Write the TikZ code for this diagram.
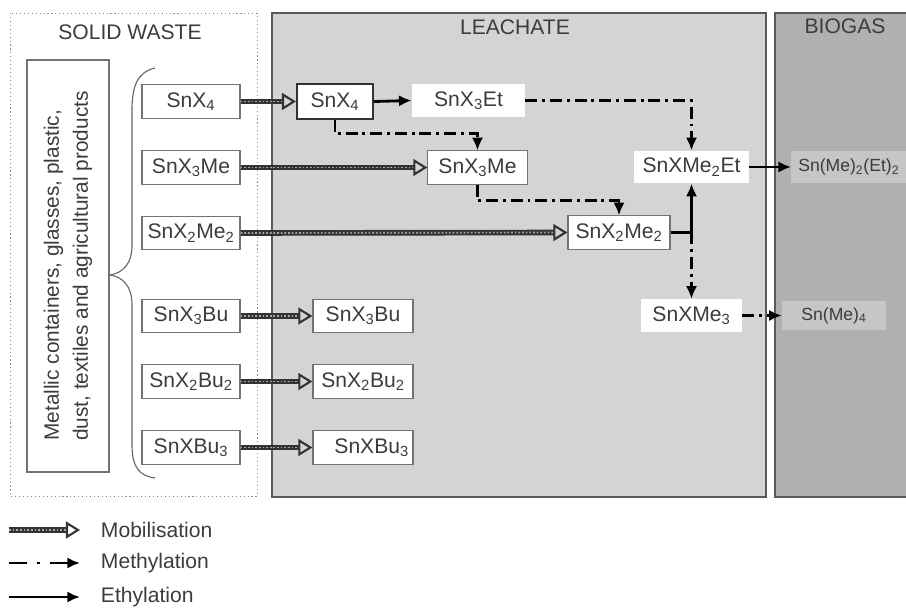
\documentclass[tikz,border=0pt]{standalone}
\usepackage{fontspec}
\setmainfont{Liberation Sans}
\usepackage{xcolor}
\usepackage{tikz}
\usetikzlibrary{positioning, fit, arrows.meta}
\definecolor{ink}{HTML}{3C3C3C}
\definecolor{leach}{HTML}{D4D4D4}
\definecolor{gas}{HTML}{B0B0B0}
\definecolor{gasbox}{HTML}{C6C6C6}
\newcommand{\chemsub}[1]{\textsubscript{#1}}

\begin{document}
\begin{tikzpicture}[x=0.025cm, y=-0.025cm,
		every node/.style={text=ink, font=\fontsize{15}{18}\selectfont},
		spec/.style={draw=black!55, fill=white, line width=0.8pt, inner sep=0pt,
			minimum width=2.45cm, minimum height=0.83cm},
		bare/.style={fill=white, inner sep=0pt, minimum height=0.82cm},
		vap/.style={fill=gasbox, inner sep=0pt, font=\fontsize{12.5}{15}\selectfont},
		mob/.style={draw=black!80, line width=4pt,
			-{Triangle[open, length=10pt, width=12pt, line width=1.5pt]},
			postaction={draw=white!65!black, -, line width=1.2pt,
				dash pattern=on 1.2pt off 1.4pt, shorten >=10pt}},
		eth/.style={draw=black, line width=2pt, -{Latex[length=9pt, width=8pt]}},
		meth/.style={eth, dash pattern=on 8.5pt off 3.5pt on 2pt off 3.5pt}
		]
		\clip (0,0) rectangle (906,610);
		
		% draw the compartments
		\draw[black!45, line width=0.7pt, dash pattern=on 0.8pt off 2pt] (10,13) rectangle (257,496);
		\draw[draw=black!65, fill=leach, line width=1.1pt] (272,13) rectangle (766,497);
		\draw[draw=black!65, fill=gas, line width=1.1pt] (775,13) rectangle (940,497);
		\node (solid) at (130,32) {SOLID WASTE};
		\node (leachate) at (515,27) {LEACHATE};
		\node (biogas) at (845,26) {BIOGAS};
		
		% draw source box and brace
		\node[draw=black!55, line width=0.8pt, rotate=90, minimum width=10.3cm, minimum height=2.05cm,
			align=left, font=\fontsize{14.8}{20.6}\selectfont] (src) at (68,266)
			{Metallic containers, glasses, plastic,\\dust, textiles and agricultural products};
		\draw[black!60, line width=0.8pt] (155,68) .. controls (138,72) and (132,85) .. (132,110)
			-- (132,245) .. controls (132,265) and (122,273) .. (110,275)
			.. controls (122,277) and (132,285) .. (132,305)
			-- (132,445) .. controls (132,468) and (140,476) .. (155,478);
		
		% draw species in solid waste
		\foreach \i/\y [count=\step from 1] in {SnX\chemsub{4}/101.5, SnX\chemsub{3}Me/167.5,
			SnX\chemsub{2}Me\chemsub{2}/233, SnX\chemsub{3}Bu/316, SnX\chemsub{2}Bu\chemsub{2}/381.5,
			SnXBu\chemsub{3}/447.5}
		\node[spec] (s\step) at (191,\y) {\i};
		
		% draw species in leachate
		\node[spec, draw=black!80, line width=1.4pt, minimum width=1.9cm, minimum height=0.87cm] (l1) at (335,101.5) {SnX\chemsub{4}};
		\node[bare, minimum width=2.83cm] (et1) at (468.5,100.5) {SnX\chemsub{3}Et};
		\node[spec, minimum width=2.48cm] (l2) at (477.5,167.5) {SnX\chemsub{3}Me};
		\node[spec, minimum width=2.55cm] (l3) at (619,232.5) {SnX\chemsub{2}Me\chemsub{2}};
		\node[spec, minimum width=2.5cm] (l4) at (363,316) {SnX\chemsub{3}Bu};
		\node[spec, minimum width=2.5cm] (l5) at (363,381.5) {SnX\chemsub{2}Bu\chemsub{2}};
		\node[spec, minimum width=2.5cm, text width=2.3cm, align=right] (l6) at (363,447.5) {SnXBu\chemsub{3}};
		\node[bare, minimum width=2.88cm] (e1) at (691.5,167) {SnXMe\chemsub{2}Et};
		\node[bare, minimum width=2.53cm] (e2) at (691.5,315.5) {SnXMe\chemsub{3}};
		\coordinate (jn) at (l3.east -| e1.south);
		
		% draw species in biogas
		\node[vap, anchor=west, minimum height=0.8cm, inner xsep=5pt] (g1) at (791,167) {Sn(Me)\chemsub{2}(Et)\chemsub{2}};
		\node[vap, minimum width=2.6cm, minimum height=0.73cm] (g2) at (834,315.5) {Sn(Me)\chemsub{4}};
		
		% mobilisation
		\foreach \a/\b in {s1/l1, s2/l2, s3/l3, s4/l4, s5/l5, s6/l6}
		\draw[mob] (\a.east) -- (\b.west);
		
		% methylation and ethylation
		\draw[eth] (l1.east) -- (et1.west);
		\draw[meth] (l1.south) -- ++(0,14) -| (l2.north);
		\draw[meth] (l2.south) -- ++(0,16) -| (l3.north);
		\draw[meth] (et1.east) -| (e1.north);
		\draw[eth] (l3.east) -| (e1.south);
		\draw[meth] (jn) -- (e2.north);
		\draw[eth] (e1.east) -- (g1.west);
		\draw[meth] (e2.east) -- (g2.west);
		
		% legend
		\coordinate (k1) at (9,530);
		\coordinate (k1e) at (80,530);
		\coordinate (k2) at (9,563);
		\coordinate (k2e) at (80,563);
		\coordinate (k3) at (9,597);
		\coordinate (k3e) at (80,597);
		\draw[mob] (k1) -- (k1e);
		\draw[meth, dash pattern=on 13pt off 7pt on 2pt off 7pt] (k2) -- (k2e);
		\draw[eth] (k3) -- (k3e);
		\node[anchor=west] (mobl) at (96,530) {Mobilisation};
		\node[anchor=west] (methl) at (96,563) {Methylation};
		\node[anchor=west] (ethl) at (96,597) {Ethylation};
\end{tikzpicture}
\end{document}
